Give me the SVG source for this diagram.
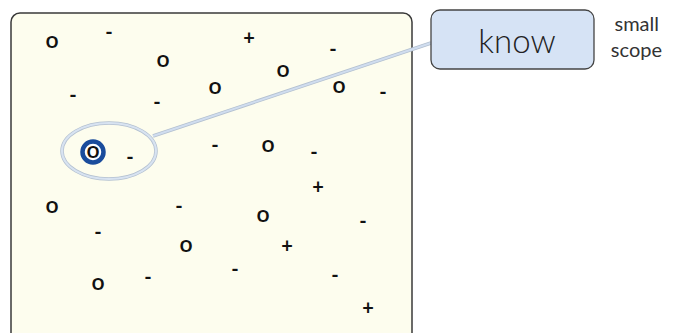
<svg xmlns="http://www.w3.org/2000/svg" width="678" height="333" viewBox="0 0 678 333">
<style>
.m{font-family:Lato,"Open Sans",sans-serif;font-weight:bold;font-size:20px;fill:#111;text-anchor:middle}
.o{font-size:23px;font-weight:600}
.lbl{font-family:Lato,"Open Sans",sans-serif;font-weight:300;fill:#222}
.note{font-family:Lato,"Open Sans",sans-serif;font-weight:400;fill:#333;font-size:20px;text-anchor:end}
</style>
<rect width="678" height="333" fill="#fff"/>
<g id="field">
<rect x="11" y="13" width="401" height="330" rx="9" fill="#fdfdee" stroke="#3a3a3a" stroke-width="1.5"/>
</g>
<g id="connectors">
<line x1="153" y1="136" x2="431" y2="43" stroke="#b3c0d0" stroke-width="3.5"/>
<line x1="153" y1="136" x2="431" y2="43" stroke="#d0ddef" stroke-width="2"/>
</g>
<g id="scope">
<ellipse cx="109" cy="151" rx="47" ry="28" fill="none" stroke="#b3c0d0" stroke-width="3.5"/>
<ellipse cx="109" cy="151" rx="47" ry="28" fill="none" stroke="#d8e3f1" stroke-width="2"/>
</g>
<g id="target">
<circle cx="93" cy="152" r="10.5" fill="#fff" stroke="#1a4c9c" stroke-width="4.5"/>
<text class="m o" x="93" y="158">o</text>
</g>
<g id="points">
<text class="m o" x="52" y="48">o</text>
<text class="m" x="109" y="38.5">-</text>
<text class="m" x="249" y="45">+</text>
<text class="m" x="333" y="55.5">-</text>
<text class="m o" x="163" y="67">o</text>
<text class="m o" x="283" y="77">o</text>
<text class="m o" x="215" y="94">o</text>
<text class="m o" x="339" y="93">o</text>
<text class="m" x="383" y="98.5">-</text>
<text class="m" x="73" y="101.5">-</text>
<text class="m" x="157" y="108.5">-</text>
<text class="m" x="130" y="163.5">-</text>
<text class="m" x="215" y="151.5">-</text>
<text class="m o" x="268" y="152">o</text>
<text class="m" x="314" y="158.5">-</text>
<text class="m" x="318" y="194">+</text>
<text class="m o" x="52" y="213">o</text>
<text class="m" x="179" y="212.5">-</text>
<text class="m o" x="263" y="222">o</text>
<text class="m" x="363" y="227.5">-</text>
<text class="m" x="98" y="238.5">-</text>
<text class="m o" x="186" y="252">o</text>
<text class="m" x="287" y="253">+</text>
<text class="m" x="235" y="275.5">-</text>
<text class="m" x="148" y="283.5">-</text>
<text class="m" x="335" y="281.5">-</text>
<text class="m o" x="98" y="290">o</text>
<text class="m" x="368" y="315">+</text>
</g>
<g id="know">
<rect x="431" y="10" width="163" height="59" rx="9" fill="#d6e3f5" stroke="#444" stroke-width="1.3"/>
<text class="lbl" x="517" y="53" font-size="33" text-anchor="middle">know</text>
</g>
<g id="note">
<text class="note" x="659" y="31">small</text>
<text class="note" x="662" y="57">scope</text>
</g>
</svg>
